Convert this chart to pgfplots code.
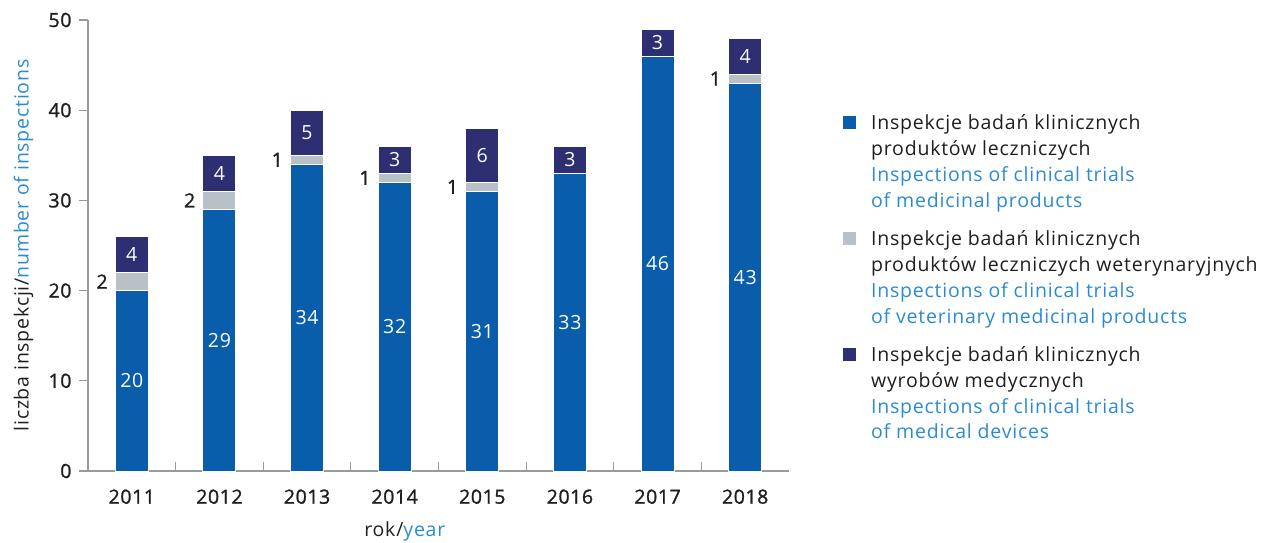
\documentclass[border=0pt]{standalone}
\usepackage{fontspec}
\setmainfont{Open Sans}[LetterSpace=4]
\newfontfamily\tickfam{Open Sans}[LetterSpace=3, FakeBold=1.2]
\usepackage{pgfplots}
\usepackage{pgfplotstable}
\pgfplotsset{compat=1.18}

\definecolor{cblue}{HTML}{0A5DAA}
\definecolor{cgrey}{HTML}{B8C0C8}
\definecolor{cnavy}{HTML}{2E2E72}
\definecolor{ltblue}{HTML}{2B8BD1}
\definecolor{txt}{HTML}{1E1E1E}
\definecolor{axisgray}{HTML}{9A9A9A}

% b = medicinal products, g = veterinary, n = medical devices
\pgfplotstableread{
x year b g n
0 2011 20 2 4
1 2012 29 2 4
2 2013 34 1 5
3 2014 32 1 3
4 2015 31 1 6
5 2016 33 0 3
6 2017 46 0 3
7 2018 43 1 4
}\insp

\newcommand{\chfont}{\fontsize{19.5}{25.8}\selectfont}
\newcommand{\tkfont}{\fontsize{19.5}{25.8}\selectfont\tickfam}

\pgfplotsset{
  base/.style={at={(0pt,0pt)}, anchor=south west, scale only axis,
    width=701pt, height=451pt, xmin=-0.5, xmax=7.5, ymin=0, ymax=50},
}

\begin{document}
\begin{tikzpicture}
\path[use as bounding box] (-88pt,-72pt) rectangle (1183pt,471pt);
\begin{axis}[base,
  ybar stacked, bar width=33pt,
  axis x line=bottom, axis y line=left,
  axis line style={-, draw=axisgray, line width=1.2pt},
  tick style={draw=axisgray, line width=1.2pt},
  tick align=outside,
  major tick length=9pt, minor tick length=9pt,
  xtick={0,...,7}, xticklabels from table={\insp}{year},
  major x tick style={draw=none},
  minor xtick={0.5,1.5,...,6.5},
  minor x tick style={yshift=9pt},
  ytick={0,10,...,50},
  /pgf/number format/assume math mode=true,
  ticklabel style={font=\tkfont, text=txt},
  xticklabel style={yshift=-6pt},
  yticklabel style={xshift=-4pt},
  xlabel={rok/\textcolor{ltblue}{year}},
  ylabel={liczba inspekcji/\textcolor{ltblue}{number of inspections}},
  xlabel style={font=\chfont, text=txt, at={(axis description cs:0.452,-0.133)}, anchor=center},
  ylabel style={font=\chfont, text=txt, at={(axis description cs:-0.092,0.5)}, anchor=center},
  legend style={at={(axis description cs:1.077,0.79)}, anchor=north west,
    draw=none, fill=none, inner sep=0pt, row sep=22pt, column sep=15pt,
    nodes={inner sep=0pt, font=\chfont, text=txt}, cells={align=left}},
  legend cell align=left,
  legend image code/.code={\fill[#1, draw=none] (0pt,33pt) rectangle (13pt,46pt);},
]
\addplot[fill=cblue, draw=white, line width=1pt] table[x=x, y=b]{\insp};
\addplot[fill=cgrey, draw=white, line width=1pt] table[x=x, y=g]{\insp};
\addplot[fill=cnavy, draw=white, line width=1pt] table[x=x, y=n]{\insp};
\addlegendentry{Inspekcje badań klinicznych\\produktów leczniczych\\\textcolor{ltblue}{Inspections of clinical trials}\\\textcolor{ltblue}{of medicinal products}}
\addlegendentry{Inspekcje badań klinicznych\\produktów leczniczych weterynaryjnych\\\textcolor{ltblue}{Inspections of clinical trials}\\\textcolor{ltblue}{of veterinary medicinal products}}
\addlegendentry{Inspekcje badań klinicznych\\wyrobów medycznych\\\textcolor{ltblue}{Inspections of clinical trials}\\\textcolor{ltblue}{of medical devices}}
\end{axis}
% value labels
\begin{axis}[base, hide axis, clip=false,
  nodes near coords, point meta=explicit symbolic]
\addplot[draw=none, mark=none,
  nodes near coords style={font=\chfont, text=white, anchor=center, inner sep=0pt}]
  table[x=x, y expr=\thisrow{b}/2, meta=b]{\insp};
\addplot[draw=none, mark=none,
  restrict expr to domain={\thisrow{g}}{0.5:100},
  nodes near coords style={font=\tkfont, text=txt, anchor=east, inner sep=0pt, xshift=-24pt}]
  table[x=x, y expr=\thisrow{b}+\thisrow{g}/2, meta=g]{\insp};
\addplot[draw=none, mark=none,
  nodes near coords style={font=\chfont, text=white, anchor=center, inner sep=0pt}]
  table[x=x, y expr=\thisrow{b}+\thisrow{g}+\thisrow{n}/2, meta=n]{\insp};
\end{axis}
\end{tikzpicture}
\end{document}
